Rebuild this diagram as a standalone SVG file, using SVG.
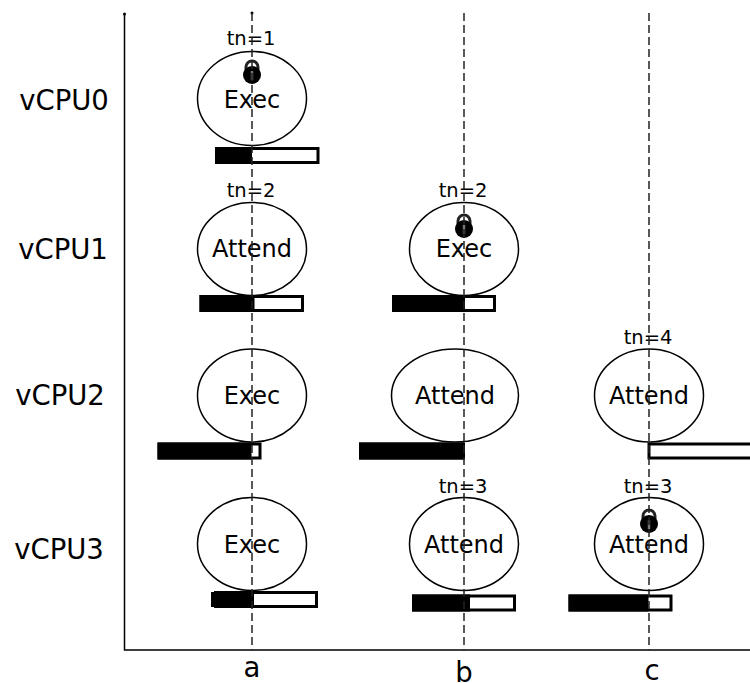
<svg xmlns="http://www.w3.org/2000/svg" width="750" height="683" viewBox="0 0 750 683">
<style>
text{font-family:"DejaVu Sans",sans-serif;fill:#000;text-anchor:middle}
.s{font-size:24px}.t{font-size:19.500px}.l{font-size:27.500px}
.n{fill:none;stroke:#000;stroke-width:1.500}
.b{fill:#fff;stroke:#000;stroke-width:3}
.f{fill:#000}
.d{fill:none;stroke:#222;stroke-width:1.500;stroke-dasharray:8 4}
.a{fill:none;stroke:#000;stroke-width:1.500}
</style>
<defs>
<g id="lock"><path d="M-6-1V-6A6 6 0 0 1 6-6V-1" fill="none" stroke="#222" stroke-width="3"/><circle r="9" cy="2" fill="#000"/><rect x="-1.200" y="-2" width="2.400" height="9" fill="#777"/></g>
</defs>
<rect width="750" height="683" fill="#fff"/>
<g id="axes">
<path class="a" d="M124.500 14V650H750"/><circle cx="124.500" cy="14" r="1.500"/><circle cx="252" cy="13" r="1.500"/>
</g>
<g id="row-labels">
<text class="l" x="64" y="110">vCPU0</text>
<text class="l" x="63" y="259">vCPU1</text>
<text class="l" x="60" y="405">vCPU2</text>
<text class="l" x="59" y="559">vCPU3</text>
</g>
<g id="n-a0"><ellipse class="n" cx="252" cy="98.500" rx="54.500" ry="47"/><text class="s" x="252" y="107.500">Exec</text><text class="t" x="251" y="45">tn=1</text><use href="#lock" x="252" y="73"/></g>
<g id="n-a1"><ellipse class="n" cx="252" cy="249" rx="54.500" ry="46.500"/><text class="s" x="252" y="257">Attend</text><text class="t" x="251" y="197">tn=2</text></g>
<g id="n-a2"><ellipse class="n" cx="252" cy="395.500" rx="54.500" ry="46.500"/><text class="s" x="252" y="404">Exec</text></g>
<g id="n-a3"><ellipse class="n" cx="252" cy="544" rx="54.500" ry="46.500"/><text class="s" x="252" y="553">Exec</text></g>
<g id="n-b1"><ellipse class="n" cx="464" cy="249" rx="54.500" ry="46.500"/><text class="s" x="464" y="257">Exec</text><text class="t" x="463" y="197">tn=2</text><use href="#lock" x="464" y="227"/></g>
<g id="n-b2"><ellipse class="n" cx="455" cy="395.500" rx="63.500" ry="46.500"/><text class="s" x="455" y="404">Attend</text></g>
<g id="n-b3"><ellipse class="n" cx="464" cy="544" rx="54.500" ry="46.500"/><text class="s" x="464" y="553">Attend</text><text class="t" x="463" y="493">tn=3</text></g>
<g id="n-c2"><ellipse class="n" cx="649" cy="395.500" rx="54.500" ry="46.500"/><text class="s" x="649" y="404">Attend</text><text class="t" x="648" y="344">tn=4</text></g>
<g id="n-c3"><ellipse class="n" cx="649" cy="544" rx="54.500" ry="46.500"/><text class="s" x="649" y="553">Attend</text><text class="t" x="648" y="493">tn=3</text><use href="#lock" x="649" y="522"/></g>
<g id="bars">
<rect class="b" x="216.500" y="148.500" width="101.500" height="14"/><rect class="f" x="215" y="147" width="37" height="17"/>
<rect class="b" x="201" y="296.500" width="101.500" height="14"/><rect class="f" x="199.500" y="295" width="55" height="17"/>
<rect class="b" x="393.500" y="296.500" width="101" height="14"/><rect class="f" x="392" y="295" width="73" height="17"/>
<rect class="b" x="159" y="444" width="101" height="14"/><rect class="f" x="157.500" y="442.500" width="94" height="17"/>
<rect class="b" x="360.500" y="444" width="103" height="14"/><rect class="f" x="359" y="442.500" width="105" height="17"/>
<rect class="b" x="649" y="444" width="103" height="14"/>
<rect class="b" x="215.500" y="592.500" width="101" height="14"/><rect class="f" x="211" y="592" width="43" height="15"/><rect class="f" x="214" y="591" width="40" height="17"/>
<rect class="b" x="413.500" y="596" width="101" height="14"/><rect class="f" x="412" y="594.500" width="58" height="17"/>
<rect class="b" x="570" y="596" width="101" height="14"/><rect class="f" x="568.500" y="594.500" width="80" height="17"/>
</g>
<g id="connectors">
<line class="d" x1="252" y1="13" x2="252" y2="650"/>
<line class="d" x1="464" y1="13" x2="464" y2="650"/>
<line class="d" x1="649" y1="13" x2="649" y2="650"/>
</g>
<g id="axis-labels">
<text class="l" x="252" y="677">a</text>
<text class="l" x="464" y="682">b</text>
<text class="l" x="652" y="680">c</text>
</g>
</svg>
